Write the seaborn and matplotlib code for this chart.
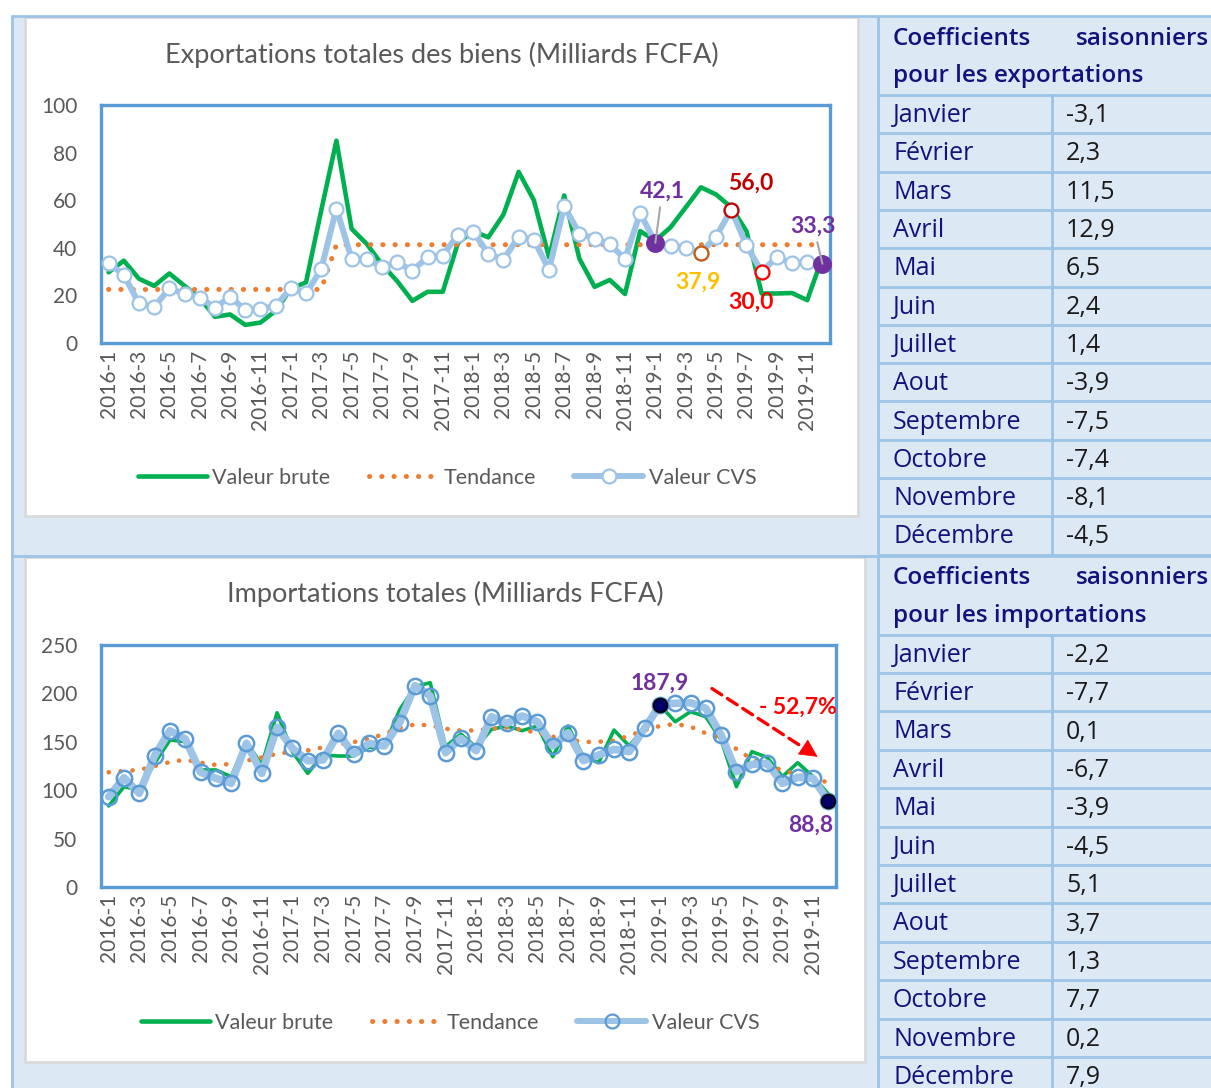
import matplotlib
matplotlib.use("Agg")
import matplotlib.pyplot as plt
import seaborn as sns
import pandas as pd
from matplotlib.patches import Rectangle
from matplotlib.lines import Line2D

# ---------------- data ----------------
periodes = [f"{a}-{m}" for a in (2016, 2017, 2018, 2019) for m in range(1, 13)]

exp_brute = [29.7, 34.6, 27.0, 24.0, 29.2, 24.0, 19.0, 11.0, 12.0, 7.6, 8.6, 13.5,
             22.8, 25.5, 55.7, 85.0, 48.0, 41.6, 33.0, 26.0, 17.7, 21.5, 21.5, 42.0,
             47.0, 44.4, 54.0, 71.9, 60.0, 36.0, 62.0, 35.4, 23.6, 26.5, 20.6, 47.0,
             43.0, 48.6, 57.0, 65.4, 62.4, 57.0, 47.0, 20.8, 20.8, 21.0, 18.0, 36.0]
exp_tendance = [22.5] * 15 + [41.3] * 33
exp_cvs = [33.5, 28.7, 16.6, 15.2, 22.9, 20.6, 19.1, 14.8, 19.4, 13.9, 14.3, 15.6,
           23.0, 20.8, 31.0, 56.5, 35.4, 35.4, 31.8, 33.9, 30.4, 36.0, 36.7, 45.5,
           46.8, 37.5, 35.0, 44.7, 43.4, 30.8, 57.4, 46.0, 43.9, 41.4, 35.4, 54.6,
           42.1, 40.6, 40.0, 37.9, 44.7, 56.0, 41.0, 30.0, 36.0, 33.5, 34.0, 33.3]

imp_brute = [83.7, 103.6, 100.2, 127.8, 151.9, 150.1, 120.9, 120.9, 114.0, 150.1, 126.0, 180.0,
             139.8, 117.4, 136.4, 135.3, 135.3, 144.3, 144.9, 182.9, 206.9, 211.1, 144.9, 158.0,
             144.3, 162.9, 166.3, 161.5, 166.3, 134.6, 166.3, 134.6, 128.4, 162.2, 145.7, 165.0,
             187.9, 170.8, 181.1, 175.9, 151.9, 103.6, 139.8, 134.0, 114.0, 128.4, 114.0, 96.1]
imp_tendance = [118.5, 119.9, 120.9, 125.0, 129.1, 131.5, 128.4, 126.1, 127.1, 130.5, 133.9, 137.7,
                139.8, 141.1, 144.2, 147.0, 149.7, 153.1, 158.0, 164.2, 168.0, 166.9, 163.5, 161.5,
                161.8, 163.5, 164.8, 162.4, 159.3, 155.3, 152.5, 149.8, 150.1, 151.2, 156.3, 162.1,
                166.3, 168.4, 165.6, 158.8, 152.5, 142.6, 131.9, 125.0, 120.9, 116.1, 112.0, 108.0]
imp_cvs = [93.3, 112.9, 96.8, 135.6, 161.5, 152.9, 118.5, 112.3, 107.1, 148.4, 117.4, 165.0,
           143.3, 130.5, 131.2, 158.8, 137.4, 148.4, 145.7, 169.7, 208.0, 197.3, 138.7, 153.6,
           140.8, 175.9, 169.1, 176.7, 170.8, 145.7, 159.4, 130.5, 136.4, 142.2, 139.8, 163.9,
           187.9, 189.8, 190.4, 184.6, 157.0, 119.1, 126.7, 127.8, 107.1, 113.3, 112.3, 88.8]

mois = ["Janvier", "Février", "Mars", "Avril", "Mai", "Juin", "Juillet", "Aout",
        "Septembre", "Octobre", "Novembre", "Décembre"]
coef_exp = [-3.1, 2.3, 11.5, 12.9, 6.5, 2.4, 1.4, -3.9, -7.5, -7.4, -8.1, -4.5]
coef_imp = [-2.2, -7.7, 0.1, -6.7, -3.9, -4.5, 5.1, 3.7, 1.3, 7.7, 0.2, 7.9]

variation_imp = "- 52,7%"

# ---------------- figure ----------------
W, H = 1211, 1088
sns.set_theme(style="white")
plt.rcParams['font.family'] = ['Lato', 'DejaVu Sans']

fig = plt.figure(figsize=(W / 100, H / 100), dpi=100)
fig.patch.set_facecolor("white")

def fx(x):
    return x / W

def fy(y):
    return 1 - y / H

def rect(x0, y0, x1, y1, **kw):
    fig.patches.append(Rectangle((fx(x0), fy(y1)), (x1 - x0) / W, (y1 - y0) / H,
                                 transform=fig.transFigure, **kw))

GRID = "#9dc3e6"
FILL = "#dde8f5"

def line(x0, y0, x1, y1, lw=2.0, color=GRID):
    fig.add_artist(Line2D([fx(x0), fx(x1)], [fy(y0), fy(y1)], transform=fig.transFigure,
                          color=color, lw=lw, zorder=-5))

# background table
rect(12, 16, W, H, facecolor=FILL, edgecolor="none", zorder=-10)
rect(25, 17, 858, 516, facecolor="white", edgecolor="#d9d9d9", lw=2, zorder=-8)
rect(25, 557, 865, 1062, facecolor="white", edgecolor="#d9d9d9", lw=2, zorder=-8)
line(12, 16, W, 16)
line(12, 16, 12, H)
line(878, 16, 878, H)
line(12, 555.5, W, 555.5)

# ---------------- tables ----------------
NAVY = "#12127d"
tfont = ['Open Sans', 'Noto Sans', 'DejaVu Sans']

def draw_table(top, header2, coefs, row_h):
    fig.text(fx(893), fy(top + 23), "Coefficients", ha="left", va="center", fontsize=17.5,
             color=NAVY, family=tfont, fontweight="semibold")
    fig.text(fx(1076), fy(top + 23), "saisonniers", ha="left", va="center", fontsize=17.5,
             color=NAVY, family=tfont, fontweight="semibold")
    fig.text(fx(893), fy(top + 60), header2, ha="left", va="center", fontsize=17.5,
             color=NAVY, family=tfont, fontweight="semibold")
    first = top + 79
    line(878, first, W, first)
    for k, (m, v) in enumerate(zip(mois, coefs)):
        yc = first + row_h * (k + 0.5) + 1.5
        fig.text(fx(893), fy(yc), m, ha="left", va="center", fontsize=18, color=NAVY, family=tfont)
        fig.text(fx(1066), fy(yc), f"{v:.1f}".replace(".", ","), ha="left", va="center",
                 fontsize=18, color="#1a1a1a", family=tfont)
        line(878, first + row_h * (k + 1), W, first + row_h * (k + 1))
    line(1052, first, 1052, min(first + row_h * 12, H))

draw_table(16, "pour les exportations", coef_exp, 38.3)
draw_table(555.5, "pour les importations", coef_imp, 38.4)

# ---------------- charts ----------------
GREEN = "#00b050"
ORANGE = "#ed7d31"
LBLUE = "#9dc3e6"
MBLUE = "#5b9bd5"
GREY = "#595959"

def setup_axes(ax, ymax, ystep):
    ax.set_facecolor("white")
    ax.set_xlim(-0.5, 47.5)
    ax.set_ylim(0, ymax)
    ax.set_yticks(range(0, ymax + 1, ystep))
    ax.set_xticks(range(0, 48, 2))
    ax.set_xticklabels(periodes[::2], rotation=90)
    ax.tick_params(axis="y", length=0, pad=17, labelsize=15, labelcolor=GREY)
    ax.tick_params(axis="x", length=0, pad=5, labelsize=15, labelcolor=GREY)
    for s in ax.spines.values():
        s.set_visible(True)
        s.set_color(MBLUE)
        s.set_linewidth(2.4)
    ax.set_xlabel("")
    ax.set_ylabel("")
    ax.grid(False)

def fmt(v):
    return f"{v:.1f}".replace(".", ",")

# --- exportations
df_exp = pd.DataFrame({"idx": range(48), "periode": periodes, "brute": exp_brute,
                       "tendance": exp_tendance, "cvs": exp_cvs})
ax1 = fig.add_axes([fx(101), fy(343), (830 - 101) / W, (343 - 105) / H])
sns.lineplot(data=df_exp, x="idx", y="brute", ax=ax1, color=GREEN, linewidth=3.3, zorder=2)
sns.lineplot(data=df_exp, x="idx", y="tendance", ax=ax1, color=ORANGE, linewidth=3.6,
             linestyle=(0, (0.05, 2.4)), dash_capstyle="round", zorder=3)
sns.lineplot(data=df_exp, x="idx", y="cvs", ax=ax1, color=LBLUE, linewidth=4.3, marker="o",
             markersize=10, markerfacecolor="white", markeredgecolor=LBLUE,
             markeredgewidth=1.6, zorder=4)
setup_axes(ax1, 100, 20)

exp_marks = [  # index, face, edge, size, label colour, offset(px), leader
    (36, "#7030a0", "#7030a0", 12, "#7030a0", (7, 52), True),
    (39, "white", "#c55a11", 10, "#ffc000", (-3, -29), False),
    (41, "white", "#c00000", 10, "#c00000", (19, 27), False),
    (43, "white", "#ff0000", 10, "#ff0000", (-11, -31), False),
    (47, "#7030a0", "#7030a0", 12, "#7030a0", (-9, 38), True),
]
for i, fc, ec, ms, lc, off, leader in exp_marks:
    ax1.plot(i, exp_cvs[i], "o", ms=ms, mfc=fc, mec=ec, mew=1.6, zorder=6, clip_on=False)
    ap = dict(arrowstyle="-", color="#a6a6a6", lw=1.5, shrinkA=2, shrinkB=0) if leader else None
    ax1.annotate(fmt(exp_cvs[i]), xy=(i, exp_cvs[i]), xytext=off, textcoords="offset pixels",
                 ha="center", va="center", color=lc, fontweight="bold", fontsize=16.5,
                 arrowprops=ap, zorder=7, annotation_clip=False)

fig.text(fx(442), fy(55), "Exportations totales des biens (Milliards FCFA)", ha="center",
         va="center", fontsize=19.5, color=GREY)

# --- importations
df_imp = pd.DataFrame({"idx": range(48), "periode": periodes, "brute": imp_brute,
                       "tendance": imp_tendance, "cvs": imp_cvs})
ax2 = fig.add_axes([fx(101), fy(887), (836 - 101) / W, (887 - 645) / H])
sns.lineplot(data=df_imp, x="idx", y="brute", ax=ax2, color=GREEN, linewidth=2.6, zorder=2)
sns.lineplot(data=df_imp, x="idx", y="tendance", ax=ax2, color=ORANGE, linewidth=3.3,
             linestyle=(0, (0.05, 2.55)), dash_capstyle="round", zorder=3)
sns.lineplot(data=df_imp, x="idx", y="cvs", ax=ax2, color=LBLUE, linewidth=5.5, marker="o",
             markersize=11, markerfacecolor="none", markeredgecolor=MBLUE,
             markeredgewidth=1.8, zorder=4)
setup_axes(ax2, 250, 50)

imp_marks = [(36, (0, 22)), (47, (-18, -24))]
for i, off in imp_marks:
    ax2.plot(i, imp_cvs[i], "o", ms=10, mfc="#000066", mec="black", mew=1.2, zorder=6, clip_on=False)
    ax2.annotate(fmt(imp_cvs[i]), xy=(i, imp_cvs[i]), xytext=off, textcoords="offset pixels",
                 ha="center", va="center", color="#7030a0", fontweight="bold", fontsize=16.5,
                 zorder=7, annotation_clip=False)

# trend arrow between the peak and the last point
a_start, a_end = (39.4, 205.0), (46.3, 134.5)
ax2.annotate("", xy=a_end, xytext=a_start,
             arrowprops=dict(arrowstyle="-", color="#ff0000", lw=2.4, linestyle=(0, (3.5, 2)),
                             shrinkA=0, shrinkB=12))
ax2.annotate("", xy=a_end, xytext=(a_end[0] - 0.9, a_end[1] + 9.5),
             arrowprops=dict(arrowstyle="-|>", color="#ff0000", lw=0.5, mutation_scale=30,
                             shrinkA=0, shrinkB=0))
ax2.text(45.0, 186, variation_imp, ha="center", va="center", color="#ff0000",
         fontweight="bold", fontsize=16.5, zorder=7)

fig.text(fx(445), fy(594), "Importations totales (Milliards FCFA)", ha="center",
         va="center", fontsize=19.5, color=GREY)

# ---------------- legends ----------------
def legend(ax, cx, cy, cvs_face, cvs_edge):
    handles = [Line2D([], [], color=GREEN, lw=3.3),
               Line2D([], [], color=ORANGE, lw=3.6, linestyle=(0, (0.05, 2.4)), dash_capstyle="round"),
               Line2D([], [], color=LBLUE, lw=4.3, marker="o", ms=10, mfc=cvs_face, mec=cvs_edge, mew=1.6)]
    leg = ax.legend(handles, ["Valeur brute", "Tendance", "Valeur CVS"], loc="center",
                    bbox_to_anchor=(fx(cx), fy(cy)), bbox_transform=fig.transFigure, ncol=3,
                    frameon=False, handlelength=3.2, handletextpad=0.25, columnspacing=1.8,
                    fontsize=15.5, labelcolor=GREY, numpoints=1)
    return leg

legend(ax1, 447, 478, "white", LBLUE)
legend(ax2, 450, 1023, "none", MBLUE)

fig.savefig("out.png", dpi=100, facecolor="white")
